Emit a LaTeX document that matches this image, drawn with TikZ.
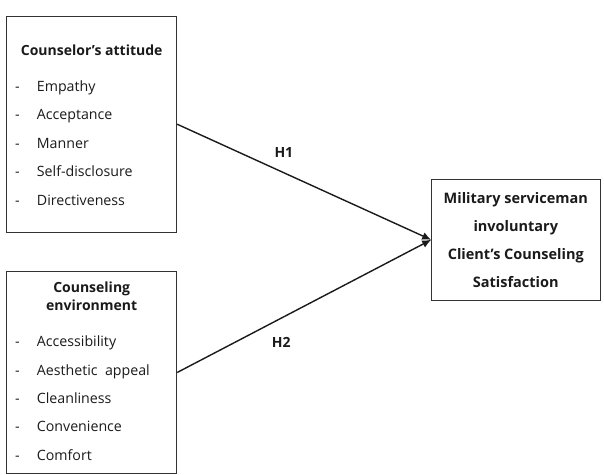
\documentclass[tikz,border=0pt]{standalone}
\usepackage{fontspec}
\setmainfont{Open Sans}
\usetikzlibrary{arrows.meta,positioning}
\definecolor{Ink}{HTML}{1A1A1A}
\definecolor{Frame}{HTML}{333333}

\begin{document}
\begin{tikzpicture}[
  x=1pt,y=-1pt,>={Latex[length=9pt,width=8pt]},
  box/.style={draw=Frame,line width=0.9pt,inner sep=0pt},
  head/.style={font=\bfseries\fontsize{14}{18.3}\selectfont,text=Ink,align=center,inner sep=0pt},
  item/.style={font=\fontsize{14.2}{16}\selectfont,text=Ink,anchor=base west,inner sep=0pt},
  path/.style={->,line width=1.4pt,Ink}
]
  \useasboundingbox (0,0) rectangle (604,474);
  % boxes
  \node[box,minimum width=170pt,minimum height=216pt] (att) at (91.7,124.2) {};
  \node[box,minimum width=170pt,minimum height=201.6pt] (env) at (91.7,372.5) {};
  \node[box,minimum width=168.3pt,minimum height=121.7pt,font=\bfseries\fontsize{14.5}{28}\selectfont,text=Ink,align=center] (sat) at (515.8,239.8)
    {Military serviceman\\involuntary\\Client's Counseling\\Satisfaction};
  % box contents
  \node[head] (atttitle) at (91.7,50) {Counselor's attitude};
  \foreach \txt [count=\i] in {Empathy,Acceptance,Manner,Self-disclosure,Directiveness}
    \node[item] (att\i) at (36.7,{91+28.5*(\i-1)}) {\txt};
  \node[head] (envtitle) at (91.7,296) {Counseling\\environment};
  \foreach \txt [count=\i] in {Accessibility,Aesthetic~~appeal,Cleanliness,Convenience,Comfort}
    \node[item] (env\i) at (36.7,{346.7+28.4*(\i-1)}) {\txt};
  \foreach \i in {1,...,5} {
    \node[item] (dasha\i) at (15,{91+28.5*(\i-1)}) {-};
    \node[item] (dashe\i) at (15,{346.7+28.4*(\i-1)}) {-};
  }
  % hypotheses
  \draw[path] (att.east) -- node[pos=0.42,above=15pt,head] (h1) {H1} (sat.west);
  \draw[path] (env.east) -- node[pos=0.41,below=19pt,head] (h2) {H2} (sat.west);
\end{tikzpicture}
\end{document}
